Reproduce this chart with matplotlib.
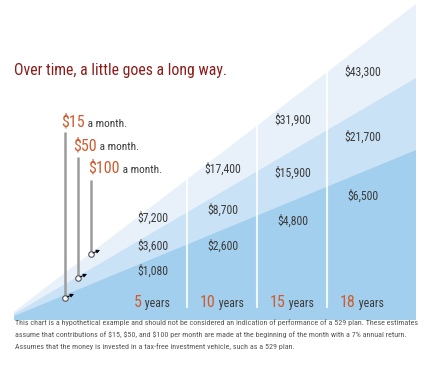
import numpy as np
import matplotlib
matplotlib.use("Agg")
import matplotlib.pyplot as plt
from matplotlib import font_manager as fm

# Data
years = [5, 10, 15, 18]
monthly = ["$15", "$50", "$100"]
value_15 = ["$1,080", "$2,600", "$4,800", "$6,500"]
value_50 = ["$3,600", "$8,700", "$15,900", "$21,700"]
value_100 = ["$7,200", "$17,400", "$31,900", "$43,300"]

title = "Over time, a little goes a long way."
footnote = [
    "This chart is a hypothetical example and should not be considered an indication of performance of a 529 plan. These estimates",
    "assume that contributions of $15, $50, and $100 per month are made at the beginning of the month with a 7% annual return.",
    "Assumes that the money is invested in a tax-free investment vehicle, such as a 529 plan.",
]

# pick a condensed face if one is around
installed = {f.name for f in fm.fontManager.ttflist}
narrow = "DejaVu Sans"
for cand in ["Roboto Condensed", "Fira Sans Condensed", "Open Sans Condensed",
             "Archivo Narrow", "Liberation Sans Narrow"]:
    if cand in installed:
        narrow = cand
        break
NARROW = [narrow, "DejaVu Sans"]

RED = "#8e1b1b"
ORANGE = "#cf5b2e"
GRAY = "#3c3c3c"
NOTE_GRAY = "#555555"
LEADER = "#9c9c9c"
wedge_colors = ["#e8f1fa", "#c9e2f5", "#a2cfee"]

W, H = 430, 369
fig = plt.figure(figsize=(W / 100, H / 100), dpi=100)
ax = fig.add_axes([0, 0, 1, 1])
ax.set_xlim(0, W)
ax.set_ylim(H, 0)
ax.axis("off")

# wedges fanning out from the bottom-left corner
x_left, x_right, base = 14, 416, 320
apex = (2, 321)
wedge_end = [4, 78, 150]
for end, color in zip(wedge_end, wedge_colors):
    y_left = np.interp(x_left, [apex[0], x_right], [apex[1], end])
    ax.fill([x_left, x_left, x_right, x_right], [base, y_left, end, base],
            color=color, lw=0)

# columns
col_x = [152 + 70 * i for i in range(len(years))]
ax.vlines([c + 35 for c in col_x[:-1]], 0, 308, colors="white", lw=1.5, alpha=0.85)

rows = [(value_15, 271, 25.0), (value_50, 246, 36.3), (value_100, 218, 48.7)]
for vals, y0, dy in rows:
    for i, v in enumerate(vals):
        ax.text(col_x[i] + 1, y0 - dy * i, v, family=NARROW, fontsize=8.5,
                color=GRAY, ha="center", va="center", parse_math=False)

ax.text(14, 70, title, family=NARROW, fontsize=11.3, color=RED,
        ha="left", va="center", parse_math=False)

for i, line in enumerate(footnote):
    fig.text(15 / W, 1 - (325.5 + 11.8 * i) / H, line, family=NARROW,
             fontsize=5.8, color=NOTE_GRAY, ha="left", va="baseline",
             parse_math=False)

# two-tone labels
pairs = []
for i, yr in enumerate(years):
    a = ax.text(col_x[i], 307, str(yr), family=NARROW, fontsize=11.5,
                color=ORANGE, ha="left", va="baseline")
    b = ax.text(col_x[i], 307, " years", family=NARROW, fontsize=8.5,
                color=GRAY, ha="left", va="baseline")
    pairs.append((a, b, col_x[i], "center"))

leg_x = [61, 73, 88]
leg_y = [127, 150, 173]
for amt, lx, ly in zip(monthly, leg_x, leg_y):
    a = ax.text(lx, ly, amt, family=NARROW, fontsize=11.5, color=ORANGE,
                ha="left", va="baseline", parse_math=False)
    b = ax.text(lx, ly, " a month.", family=NARROW, fontsize=8.2,
                color=GRAY, ha="left", va="baseline")
    pairs.append((a, b, lx, "left"))

fig.canvas.draw()
r = fig.canvas.get_renderer()
for a, b, x, mode in pairs:
    wa = a.get_window_extent(r).width
    wb = b.get_window_extent(r).width
    start = x - (wa + wb) / 2 if mode == "center" else x
    a.set_x(start)
    b.set_x(start + wa)

# leader lines with markers and small arrows
lead_x = [65, 78, 91]
lead_top = [132, 157, 180]
lead_bot = [298, 278, 254]
for lx, top, bot in zip(lead_x, lead_top, lead_bot):
    ax.plot([lx, lx], [top, bot], color=LEADER, lw=1.8, solid_capstyle="butt")
    ax.annotate("", xy=(lx + 9, bot - 4), xytext=(lx + 2, bot - 1),
                arrowprops=dict(arrowstyle="-|>", color="black", lw=0.7,
                                mutation_scale=5, shrinkA=0, shrinkB=0))
    ax.plot(lx, bot, marker="o", ms=4, mfc="white", mec="#555555", mew=0.8)

fig.savefig("out.png", dpi=100)
